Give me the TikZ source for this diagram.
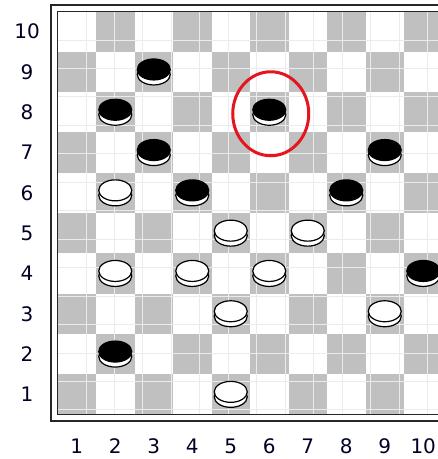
\documentclass[tikz,border=0pt]{standalone}
\usepackage{fontspec}
\setmainfont{DejaVu Sans}
\usepackage{tikz}

\definecolor{boardgray}{RGB}{192,192,192}
\definecolor{circlered}{RGB}{230,20,30}

\tikzset{
  blackdisc/.pic={
    \filldraw[fill=white, draw=black, line width=1.2pt] (0pt,-2.5pt) ellipse [x radius=16.5pt, y radius=10.5pt];
    \filldraw[black, line width=1.2pt] (0pt,2.5pt) ellipse [x radius=16.5pt, y radius=10.5pt];
  },
  whitedisc/.pic={
    \filldraw[fill=white, draw=black, line width=1.2pt] (0pt,-2.5pt) ellipse [x radius=16.5pt, y radius=10.5pt];
    \filldraw[fill=white, draw=black, line width=1.2pt] (0pt,2.5pt) ellipse [x radius=16.5pt, y radius=10.5pt];
  }
}

\begin{document}
\begin{tikzpicture}[x=1pt, y=-1pt,
    sq/.style={fill=boardgray},
    frame/.style={draw=black!85, line width=1.4pt},
    num/.style={font=\fontsize{20}{24}\selectfont, text=black!85!blue}]
    \useasboundingbox (0,0) rectangle (438,459);
    \begin{scope}[shift={(57.5,11.5)}, x=38.5pt, y=-40.3pt]
        % squares
        \foreach \c in {1,...,10}
            \foreach \r in {1,...,10} {
                \pgfmathtruncatemacro\s{mod(\c+\r,2)}
                \ifnum\s=0 \fill[sq] (\c-1,10-\r) rectangle (\c,11-\r); \fi
            }
        \draw[black!8, line width=0.8pt] (0,0) grid (10,10);
        % double frame
        \draw[frame] (0,0) rectangle (10,10);
        \draw[frame] ([xshift=-6.5pt, yshift=6.5pt]0,0) rectangle ([xshift=6.5pt, yshift=-6.5pt]10,10);
        % numbers
        \foreach \r in {1,...,10}
            \node[num] (row\r) at (-0.79,10.5-\r) {\r};
        \foreach \c in {1,...,10}
            \node[num] (col\c) at (\c-0.5,10.78) {\c};
        % pieces
        \foreach \c/\r in {3/9, 2/8, 6/8, 3/7, 9/7, 4/6, 8/6, 10/4, 2/2}
            \pic at (\c-0.5,10.5-\r) {blackdisc};
        \foreach \c/\r in {2/6, 5/5, 7/5, 2/4, 4/4, 6/4, 5/3, 9/3, 5/1}
            \pic at (\c-0.5,10.5-\r) {whitedisc};
        % marked piece
        \coordinate (M) at (5.5,2.5);
        \draw[circlered, line width=3pt] ([xshift=1.5pt, yshift=-1.5pt]M) ellipse [x radius=38pt, y radius=42pt];
    \end{scope}
\end{tikzpicture}
\end{document}
